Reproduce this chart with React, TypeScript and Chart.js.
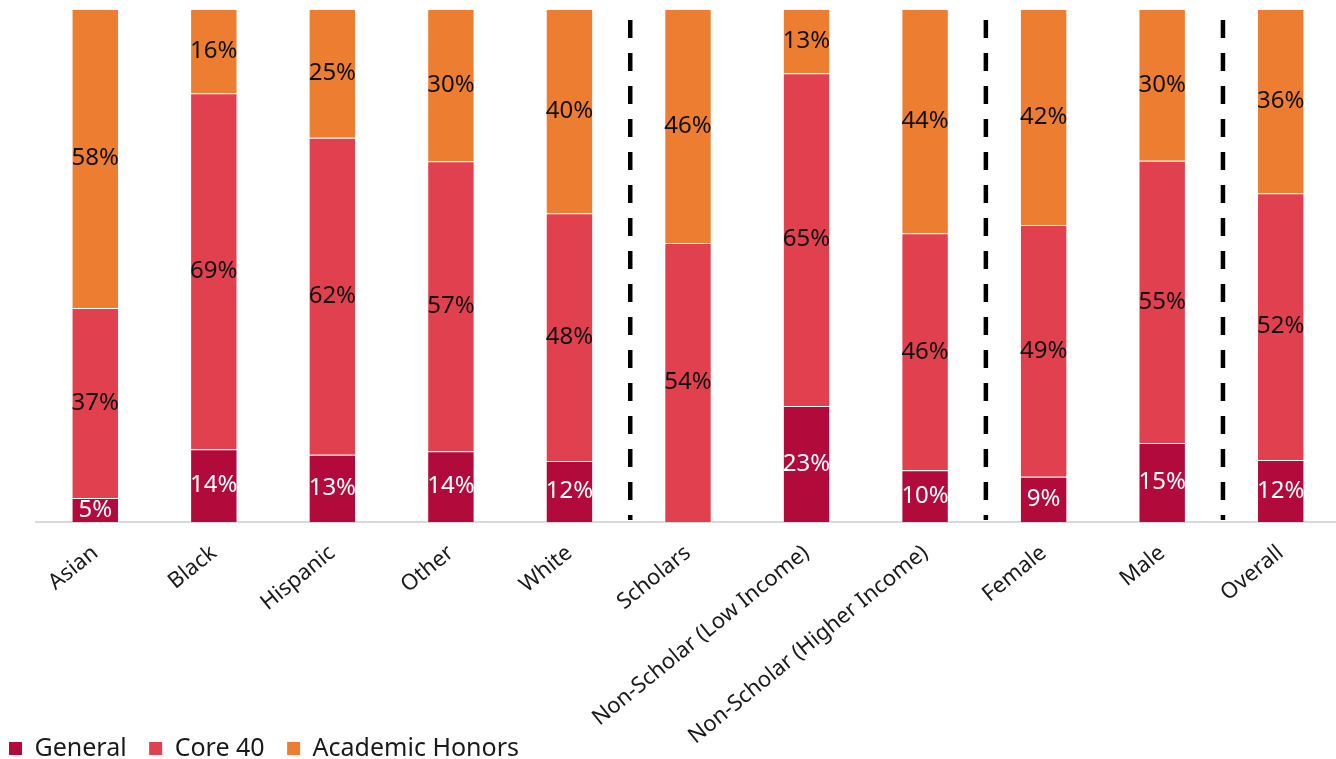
import React, { useEffect, useRef } from "react";
import { Chart, registerables } from "chart.js";

Chart.register(...registerables);

const categories = [
  "Asian",
  "Black",
  "Hispanic",
  "Other",
  "White",
  "Scholars",
  "Non-Scholar (Low Income)",
  "Non-Scholar (Higher Income)",
  "Female",
  "Male",
  "Overall",
];

const generalValues = [4.7, 14.2, 13.1, 13.8, 11.9, 0, 22.6, 10.1, 8.8, 15.4, 12.1];
const core40Values = [37.0, 69.4, 61.8, 56.5, 48.3, 54.4, 64.9, 46.2, 49.1, 55.0, 52.0];
const honorsValues = [58.3, 16.4, 25.1, 29.7, 39.8, 45.6, 12.5, 43.7, 42.1, 29.6, 35.9];

const seriesNames = ["General", "Core 40", "Academic Honors"];
const separatorsAfter = ["White", "Non-Scholar (Higher Income)", "Male"];

const COLORS = ["#B30A3C", "#E1414F", "#ED7D31"];
const FONT = "'Noto Sans', sans-serif";

const dataLabelPlugin = {
  id: "segmentLabels",
  afterDatasetsDraw(chart: any) {
    const ctx = chart.ctx;
    ctx.save();
    ctx.font = `24px ${FONT}`;
    ctx.textAlign = "center";
    ctx.textBaseline = "middle";
    chart.data.datasets.forEach((ds: any, di: number) => {
      const meta = chart.getDatasetMeta(di);
      meta.data.forEach((el: any, i: number) => {
        const v = ds.data[i];
        const r = Math.round(v);
        if (!r) return;
        ctx.fillStyle = di === 0 ? "#ffffff" : "#111111";
        ctx.fillText(`${r}%`, el.x, (el.y + el.base) / 2);
      });
    });
    ctx.restore();
  },
};

const separatorPlugin = {
  id: "separators",
  afterDatasetsDraw(chart: any) {
    const ctx = chart.ctx;
    const xs = chart.scales.x;
    const area = chart.chartArea;
    ctx.save();
    ctx.strokeStyle = "#000000";
    ctx.lineWidth = 4.5;
    ctx.setLineDash([18, 15]);
    separatorsAfter.forEach((name) => {
      const i = categories.indexOf(name);
      const x = (xs.getPixelForValue(i) + xs.getPixelForValue(i + 1)) / 2 + 1.5;
      ctx.beginPath();
      ctx.moveTo(x, area.top + 11);
      ctx.lineTo(x, area.bottom - 2);
      ctx.stroke();
    });
    ctx.restore();
  },
};

export default function App() {
  const canvasRef = useRef<HTMLCanvasElement | null>(null);

  useEffect(() => {
    document.body.style.margin = "0";
    document.body.style.overflow = "hidden";
    const canvas = canvasRef.current;
    if (!canvas) return;
    const chart = new Chart(canvas, {
      type: "bar",
      data: {
        labels: categories,
        datasets: [generalValues, core40Values, honorsValues].map((vals, k) => ({
          label: seriesNames[k],
          data: vals,
          backgroundColor: COLORS[k],
          borderColor: "rgba(255,255,255,0.35)",
          borderWidth: 1,
          categoryPercentage: 1,
          barPercentage: 0.4,
        })),
      },
      options: {
        animation: false,
        responsive: true,
        maintainAspectRatio: false,
        layout: { padding: { top: 9, left: 6, right: 0, bottom: -12 } },
        scales: {
          x: {
            stacked: true,
            grid: { display: false },
            border: { display: true, color: "#D9D9D9", width: 2 },
            ticks: {
              color: "#1a1a1a",
              font: { family: FONT, size: 22 },
              minRotation: 39,
              maxRotation: 39,
              padding: 10,
              autoSkip: false,
            },
            afterFit: (scale: any) => {
              scale.height = 211;
              scale.paddingLeft = 0;
              scale.paddingRight = 0;
              scale._computeLabelArea = () => undefined;
            },
          },
          y: {
            stacked: true,
            min: 0,
            max: 100,
            grid: { display: false },
            border: { display: false },
            ticks: { display: false },
            afterFit: (scale: any) => {
              scale.width = 30;
            },
          },
        },
        plugins: {
          tooltip: { enabled: false },
          legend: {
            position: "bottom",
            align: "start",
            labels: {
              boxWidth: 13,
              boxHeight: 13,
              padding: 3,
              color: "#1a1a1a",
              font: { family: FONT, size: 25 },
              generateLabels: (ch: any) =>
                ch.data.datasets.map((ds: any, i: number) => ({
                  text: ds.label + "   ",
                  fillStyle: ds.backgroundColor,
                  strokeStyle: ds.backgroundColor,
                  lineWidth: 0,
                  hidden: false,
                  datasetIndex: i,
                  fontColor: "#1a1a1a",
                })),
            },
          },
        },
      },
      plugins: [dataLabelPlugin, separatorPlugin],
    });
    return () => chart.destroy();
  }, []);

  return (
    <div style={{ position: "relative", width: "1340px", height: "759px" }}>
      <canvas ref={canvasRef} />
    </div>
  );
}
